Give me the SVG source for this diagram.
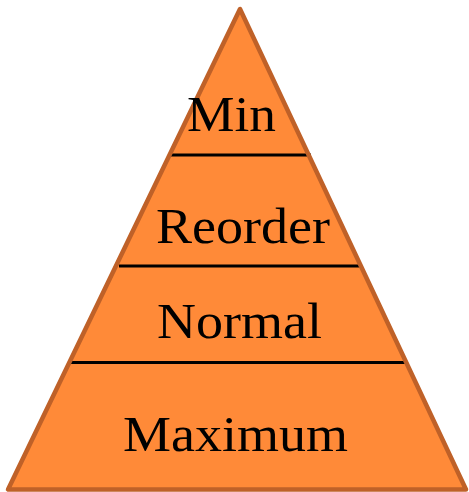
<svg xmlns="http://www.w3.org/2000/svg" width="469" height="492" viewBox="0 0 469 492">
  <style>
    .lbl { font-family: "Liberation Serif", "DejaVu Serif", serif; font-size: 51px; fill: #000; }
    .div { stroke: #000; stroke-width: 3; fill: none; }
  </style>
  <rect width="469" height="492" fill="#fff"/>
  <g id="pyramid">
    <path d="M240,9 L8,489.5 L466,489.5 Z" fill="#FF8A38"/>
  </g>
  <g id="connectors">
    <line class="div" x1="169" y1="155" x2="311" y2="155"/>
    <line class="div" x1="119" y1="266" x2="361" y2="266"/>
    <line class="div" x1="71" y1="362.5" x2="408" y2="362.5"/>
  </g>
  <g id="outline">
    <path d="M240,9 L8,489.5 L466,489.5 Z" fill="none" stroke="#BF6128" stroke-width="4.5" stroke-linejoin="round"/>
  </g>
  <g id="node-min"><text class="lbl" x="187" y="131" textLength="89" lengthAdjust="spacingAndGlyphs">Min</text></g>
  <g id="node-reorder"><text class="lbl" x="156" y="243" textLength="174" lengthAdjust="spacingAndGlyphs">Reorder</text></g>
  <g id="node-normal"><text class="lbl" x="157" y="338" textLength="165" lengthAdjust="spacingAndGlyphs">Normal</text></g>
  <g id="node-maximum"><text class="lbl" x="123" y="451" textLength="225" lengthAdjust="spacingAndGlyphs">Maximum</text></g>
</svg>
